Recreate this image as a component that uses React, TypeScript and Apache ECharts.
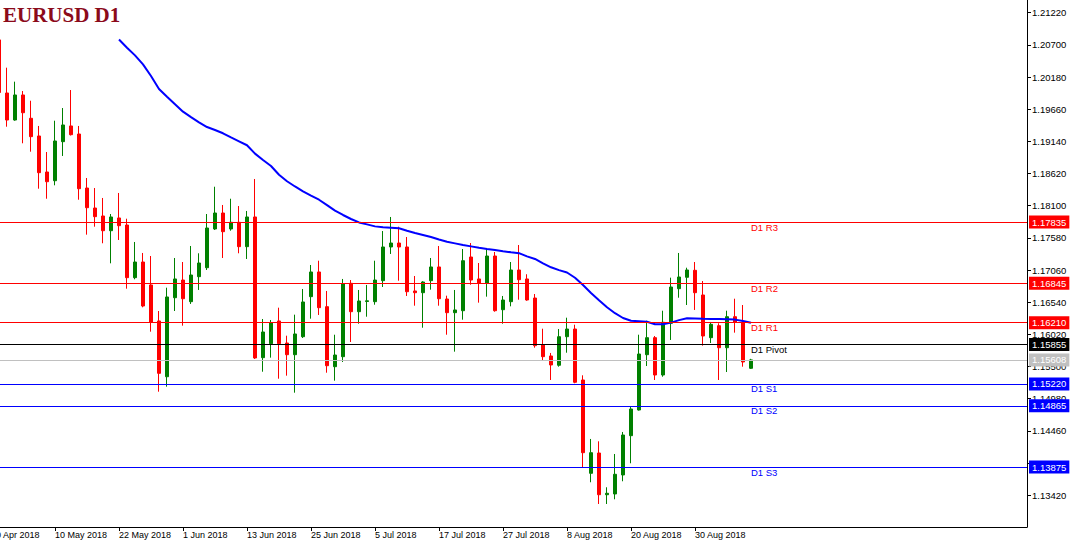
import React, { useEffect, useRef } from "react";
import * as echarts from "echarts";

// ---------- DATA ----------
const MONTHS = ["Jan", "Feb", "Mar", "Apr", "May", "Jun", "Jul", "Aug", "Sep", "Oct", "Nov", "Dec"];
// trading days (weekdays) shown on the category axis, first one is 30 Apr 2018
const FIRST_DAY_UTC = Date.UTC(2018, 3, 30);
const DAY_COUNT = 130;
function weekdayLabels(start: number, count: number): string[] {
  const out: string[] = [];
  let t = start;
  while (out.length < count) {
    const d = new Date(t);
    const wd = d.getUTCDay();
    if (wd !== 0 && wd !== 6) out.push(`${d.getUTCDate()} ${MONTHS[d.getUTCMonth()]} ${d.getUTCFullYear()}`);
    t += 86400000;
  }
  return out;
}
const dates = weekdayLabels(FIRST_DAY_UTC, DAY_COUNT);

// candles from 1 May 2018 to 10 Sep 2018 (category index 1..95)
const opens = [
  1.20780, 1.19922, 1.19485, 1.19890, 1.19513, 1.19227, 1.18645, 1.18504, 1.19135, 1.19389,
  1.19259, 1.18386, 1.18063, 1.17934, 1.17696, 1.17902, 1.17788, 1.16937, 1.17190, 1.16819,
  1.16237, 1.15336, 1.16613, 1.16899, 1.16549, 1.16953, 1.17098, 1.17724, 1.17982, 1.17724,
  1.17832, 1.17438, 1.17918, 1.15644, 1.15870, 1.16237, 1.15881, 1.15692, 1.15983, 1.16630,
  1.17029, 1.16468, 1.15498, 1.15660, 1.16846, 1.16387, 1.16552, 1.16549, 1.16888, 1.17433,
  1.17497, 1.17433, 1.16722, 1.16694, 1.16888, 1.17110, 1.16592, 1.16371, 1.16403, 1.17271,
  1.16916, 1.16851, 1.17287, 1.16419, 1.16549, 1.17061, 1.16916, 1.16608, 1.15854, 1.15671,
  1.15521, 1.15983, 1.16107, 1.15283, 1.13775, 1.14103, 1.13429, 1.13441, 1.13748, 1.14383,
  1.14798, 1.15692, 1.15967, 1.15364, 1.16200, 1.16759, 1.16943, 1.17056, 1.16657, 1.15967,
  1.16161, 1.15805, 1.16306, 1.16216, 1.15472,
];
const highs = [
  1.20800, 1.20331, 1.20105, 1.19954, 1.19797, 1.19389, 1.18968, 1.19474, 1.19679, 1.19970,
  1.19389, 1.18548, 1.18386, 1.18225, 1.17966, 1.18306, 1.17890, 1.17514, 1.17336, 1.17287,
  1.16398, 1.16775, 1.17255, 1.17190, 1.17449, 1.17331, 1.17966, 1.18407, 1.18112, 1.18213,
  1.18095, 1.18015, 1.18532, 1.16269, 1.16253, 1.16452, 1.15999, 1.16339, 1.16754, 1.17142,
  1.17211, 1.16722, 1.16015, 1.16916, 1.16899, 1.16738, 1.16819, 1.17211, 1.17691, 1.17918,
  1.17761, 1.17594, 1.16964, 1.16880, 1.17255, 1.17449, 1.16646, 1.16738, 1.17400, 1.17497,
  1.17174, 1.17400, 1.17352, 1.16641, 1.17190, 1.17465, 1.16992, 1.16673, 1.16112, 1.15720,
  1.16107, 1.16290, 1.16177, 1.15359, 1.14330, 1.14292, 1.13549, 1.14087, 1.14443, 1.14852,
  1.16015, 1.16242, 1.15994, 1.16403, 1.16937, 1.17336, 1.17098, 1.17190, 1.16883, 1.16221,
  1.16200, 1.16403, 1.16597, 1.16495, 1.15625,
];
const lows = [
  1.19890, 1.19377, 1.19474, 1.19109, 1.18973, 1.18375, 1.18213, 1.18430, 1.18904, 1.19235,
  1.18197, 1.17632, 1.17761, 1.17493, 1.17169, 1.17546, 1.16759, 1.16911, 1.16458, 1.16064,
  1.15094, 1.15175, 1.16398, 1.16161, 1.16512, 1.16738, 1.17061, 1.17708, 1.17255, 1.17696,
  1.17331, 1.17239, 1.15623, 1.15417, 1.15644, 1.15304, 1.15353, 1.15078, 1.15962, 1.16274,
  1.16334, 1.15401, 1.15272, 1.15574, 1.15897, 1.16193, 1.16306, 1.16500, 1.16786, 1.17320,
  1.16888, 1.16641, 1.16484, 1.16128, 1.16743, 1.16484, 1.16015, 1.15741, 1.16258, 1.16823,
  1.16533, 1.16630, 1.16387, 1.16193, 1.16474, 1.16581, 1.16564, 1.15805, 1.15595, 1.15283,
  1.15498, 1.15724, 1.15230, 1.13872, 1.13630, 1.13279, 1.13279, 1.13355, 1.13646, 1.13937,
  1.14790, 1.15509, 1.15283, 1.15336, 1.15930, 1.16613, 1.16495, 1.16415, 1.15838, 1.15881,
  1.15283, 1.15412, 1.16048, 1.15498, 1.15461,
];
const closes = [
  1.19930, 1.19485, 1.19890, 1.19603, 1.19216, 1.18634, 1.18488, 1.19146, 1.19405, 1.19248,
  1.18375, 1.18068, 1.17923, 1.17696, 1.17918, 1.17777, 1.16937, 1.17190, 1.16479, 1.16216,
  1.15391, 1.16625, 1.16916, 1.16597, 1.16980, 1.17174, 1.17740, 1.17982, 1.17680, 1.17832,
  1.17438, 1.17918, 1.15639, 1.16059, 1.16209, 1.15870, 1.15692, 1.16027, 1.16544, 1.17029,
  1.16452, 1.15514, 1.15687, 1.16840, 1.16387, 1.16560, 1.16563, 1.16899, 1.17433, 1.17497,
  1.17433, 1.16710, 1.16694, 1.16867, 1.17110, 1.16597, 1.16371, 1.16415, 1.17211, 1.16899,
  1.16851, 1.17287, 1.16403, 1.16576, 1.17061, 1.16904, 1.16576, 1.15838, 1.15660, 1.15526,
  1.15983, 1.16107, 1.15246, 1.14108, 1.14108, 1.13429, 1.13452, 1.13759, 1.14394, 1.14814,
  1.15703, 1.15967, 1.15364, 1.16216, 1.16786, 1.16948, 1.17061, 1.16694, 1.15994, 1.16183,
  1.15805, 1.16306, 1.16216, 1.15574, 1.15608,
];
// moving average, begins at the 16th candle (22 May 2018)
const maLeadingGap = 16;
const maValues = [
  1.20787, 1.20654, 1.20530, 1.20384, 1.20197, 1.19987, 1.19860, 1.19741, 1.19620, 1.19532,
  1.19448, 1.19372, 1.19324, 1.19271, 1.19203, 1.19141, 1.19077, 1.18942, 1.18839, 1.18742,
  1.18600, 1.18496, 1.18411, 1.18333, 1.18264, 1.18197, 1.18110, 1.18020, 1.17950, 1.17885,
  1.17830, 1.17798, 1.17766, 1.17753, 1.17745, 1.17735, 1.17695, 1.17659, 1.17627, 1.17593,
  1.17554, 1.17517, 1.17491, 1.17465, 1.17443, 1.17421, 1.17402, 1.17384, 1.17365, 1.17347,
  1.17333, 1.17281, 1.17239, 1.17169, 1.17105, 1.17059, 1.17021, 1.16935, 1.16819, 1.16689,
  1.16573, 1.16460, 1.16363, 1.16285, 1.16240, 1.16232, 1.16224, 1.16183, 1.16183, 1.16211,
  1.16251, 1.16280, 1.16277, 1.16272, 1.16269, 1.16268, 1.16266, 1.16259, 1.16237, 1.16209,
];

// daily pivot levels
const levelNames = ["D1 R3", "D1 R2", "D1 R1", "D1 Pivot", "D1 S1", "D1 S2", "D1 S3"];
const levelValues = [1.17835, 1.16845, 1.16210, 1.15855, 1.15220, 1.14865, 1.13875];
const currentPrice = 1.15608;

const yTickValues = [
  1.13420, 1.13940, 1.14460, 1.14980, 1.15500, 1.16020, 1.16540, 1.17060,
  1.17580, 1.18100, 1.18620, 1.19140, 1.19660, 1.20180, 1.20700, 1.21220,
];
const Y_MIN = 1.12907;
const Y_MAX = 1.21425;

// ---------- STYLE ----------
const RED = "#ff0000";
const GREEN = "#008000";
const BLUE = "#0000ff";
const BLACK = "#000000";
const SILVER = "#c0c0c0";
const levelColors = [RED, RED, RED, BLACK, BLUE, BLUE, BLUE];
const FONT = "'Liberation Sans', Arial, sans-serif";

export default function App() {
  const ref = useRef<HTMLDivElement>(null);

  useEffect(() => {
    document.body.style.margin = "0";
    if (!ref.current) return;
    const chart = echarts.init(ref.current, null, { renderer: "svg" });

    const candleData: any[] = ["-"];
    for (let i = 0; i < opens.length; i++) {
      candleData.push([opens[i], closes[i], lows[i], highs[i]]);
    }
    const maData: any[] = [null];
    for (let i = 0; i < maLeadingGap - 1; i++) maData.push(null);
    maValues.forEach((v) => maData.push(v));

    const lastBar = opens.length; // category index of last candle
    const lastCat = dates.length - 1;
    const tickShown = (i: number) => i % 8 === 0 && i <= lastBar;

    const boxLabel = (text: string, bg: string) => ({
      show: true,
      position: "end",
      formatter: text,
      color: "#ffffff",
      backgroundColor: bg,
      padding: [2, 3, 1, 3],
      fontSize: 9.5,
      fontFamily: FONT,
      distance: 2,
    });

    const markData: any[] = [];
    levelValues.forEach((v, k) => {
      markData.push({
        yAxis: v,
        lineStyle: { color: levelColors[k], width: 1, type: "solid" },
        label: boxLabel(v.toFixed(5), levelColors[k]),
      });
      markData.push([
        {
          coord: [dates[lastBar], v],
          lineStyle: { color: "rgba(0,0,0,0)", width: 1 },
          label: {
            show: true,
            position: "insideStartBottom",
            formatter: levelNames[k],
            color: levelColors[k],
            fontSize: 9.5,
            fontFamily: FONT,
            distance: 0,
          },
        },
        { coord: [dates[lastCat], v] },
      ]);
    });
    markData.push({
      yAxis: currentPrice,
      lineStyle: { color: SILVER, width: 1, type: "solid" },
      label: boxLabel(currentPrice.toFixed(5), SILVER),
    });

    const option: any = {
      animation: false,
      backgroundColor: "#ffffff",
      textStyle: { fontFamily: FONT },
      title: {
        text: "EURUSD D1",
        left: 3,
        top: 4,
        padding: 0,
        textStyle: {
          fontFamily: "'Liberation Serif', 'Times New Roman', serif",
          fontWeight: "bold",
          fontSize: 21,
          color: "#8b0a1a",
        },
      },
      grid: {
        left: -13,
        right: 44,
        top: 0,
        bottom: 20,
        containLabel: false,
        outerBoundsMode: "none",
      },
      xAxis: {
        type: "category",
        data: dates,
        boundaryGap: true,
        axisLine: { show: true, lineStyle: { color: BLACK, width: 1 } },
        axisTick: {
          show: true,
          interval: (i: number) => tickShown(i),
          alignWithLabel: true,
          length: 4,
          lineStyle: { color: BLACK },
        },
        axisLabel: {
          interval: (i: number) => tickShown(i),
          align: "left",
          margin: 3,
          color: BLACK,
          fontSize: 9,
          fontFamily: FONT,
          padding: [0, 0, 0, 0],
        },
        splitLine: { show: false },
      },
      yAxis: {
        type: "value",
        position: "right",
        min: Y_MIN,
        max: Y_MAX,
        axisLine: { show: true, lineStyle: { color: BLACK, width: 1 } },
        axisTick: { show: true, length: 4, customValues: yTickValues, lineStyle: { color: BLACK } },
        axisLabel: {
          customValues: yTickValues,
          formatter: (v: number) => v.toFixed(5),
          color: BLACK,
          fontSize: 9.5,
          fontFamily: FONT,
          margin: 5,
        },
        splitLine: { show: false },
      },
      series: [
        {
          type: "candlestick",
          data: candleData,
          barWidth: 4,
          itemStyle: {
            color: GREEN,
            color0: RED,
            borderColor: GREEN,
            borderColor0: RED,
            borderWidth: 1,
          },
        },
        {
          type: "line",
          data: maData,
          symbol: "none",
          showSymbol: false,
          clip: false,
          connectNulls: false,
          lineStyle: { color: BLUE, width: 2 },
          z: 3,
          markLine: {
            silent: true,
            precision: 5,
            symbol: ["none", "none"],
            animation: false,
            data: markData,
          },
        },
      ],
    };
    chart.setOption(option);
    return () => chart.dispose();
  }, []);

  return (
    <div
      ref={ref}
      style={{ position: "absolute", left: 0, top: 0, width: 1071, height: 547, background: "#fff" }}
    />
  );
}
